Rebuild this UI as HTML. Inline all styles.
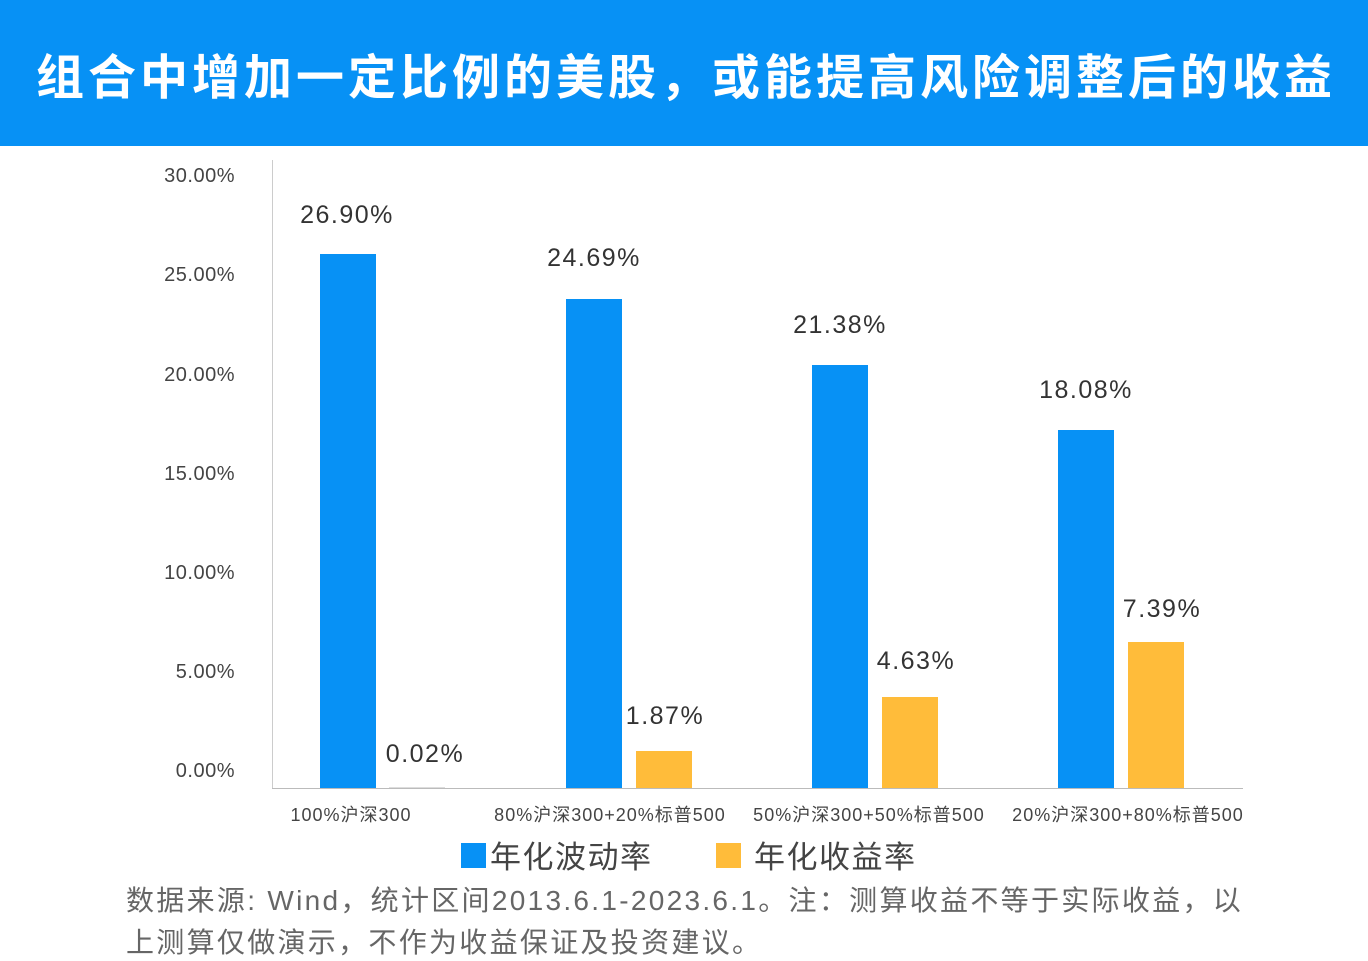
<!DOCTYPE html>
<html><head><meta charset="utf-8"><style>
body{margin:0;width:1368px;height:960px;background:#fff;overflow:hidden;font-family:"Liberation Sans","Noto Sans CJK SC",sans-serif;position:relative}
.hdr{position:absolute;left:0;top:0;width:1368px;height:146px;background:#0791F5}
.ttl{position:absolute;left:0;top:46px;width:1368px;text-align:center;color:#fff;font-weight:bold;font-size:48px;line-height:66px;letter-spacing:4px;text-indent:4px}
.t{position:absolute;white-space:nowrap}
.yl{right:1133px;font-size:20px;color:#444;text-align:right;letter-spacing:0.5px}
.b{position:absolute;width:56px}
.blue{background:#0791F5}.yel{background:#FFBC3A}
.v{font-size:25px;color:#333;transform:translateX(-50%);letter-spacing:1.5px}
.c{font-size:18px;color:#444;transform:translateX(-50%);top:801px;letter-spacing:1px}
.f{font-size:28px;color:#666;left:126px;letter-spacing:2.3px}
</style></head><body>
<div class="hdr"></div>
<div class="ttl">组合中增加一定比例的美股，或能提高风险调整后的收益</div>
<div style="position:absolute;left:272px;top:160px;width:1px;height:628px;background:#ccc"></div>
<div style="position:absolute;left:272px;top:788px;width:971px;height:1px;background:#bbb"></div>
<div class="t yl" style="top:165px">30.00%</div>
<div class="t yl" style="top:264px">25.00%</div>
<div class="t yl" style="top:364px">20.00%</div>
<div class="t yl" style="top:463px">15.00%</div>
<div class="t yl" style="top:562px">10.00%</div>
<div class="t yl" style="top:661px">5.00%</div>
<div class="t yl" style="top:760px">0.00%</div>

<div class="b blue" style="left:320px;top:254px;height:534px"></div>
<div class="b" style="left:389px;top:787px;height:1px;background:#ddd"></div>
<div class="b blue" style="left:566px;top:299px;height:489px"></div>
<div class="b yel" style="left:636px;top:751px;height:37px"></div>
<div class="b blue" style="left:812px;top:365px;height:423px"></div>
<div class="b yel" style="left:882px;top:697px;height:91px"></div>
<div class="b blue" style="left:1058px;top:430px;height:358px"></div>
<div class="b yel" style="left:1128px;top:642px;height:146px"></div>

<div class="t v" style="left:347px;top:201px">26.90%</div>
<div class="t v" style="left:425px;top:740px">0.02%</div>
<div class="t v" style="left:594px;top:244px">24.69%</div>
<div class="t v" style="left:665px;top:702px">1.87%</div>
<div class="t v" style="left:840px;top:311px">21.38%</div>
<div class="t v" style="left:916px;top:647px">4.63%</div>
<div class="t v" style="left:1086px;top:376px">18.08%</div>
<div class="t v" style="left:1162px;top:595px">7.39%</div>

<div class="t c" style="left:351px">100%沪深300</div>
<div class="t c" style="left:610px">80%沪深300+20%标普500</div>
<div class="t c" style="left:869px">50%沪深300+50%标普500</div>
<div class="t c" style="left:1128px">20%沪深300+80%标普500</div>

<div style="position:absolute;left:461px;top:843px;width:25px;height:25px;background:#0791F5"></div>
<div class="t" style="left:490px;top:832px;font-size:31px;color:#444;letter-spacing:1.5px">年化波动率</div>
<div style="position:absolute;left:716px;top:843px;width:25px;height:25px;background:#FFBC3A"></div>
<div class="t" style="left:754px;top:832px;font-size:31px;color:#444;letter-spacing:1.5px">年化收益率</div>

<div class="t f" style="top:879px">数据来源: Wind，统计区间2013.6.1-2023.6.1。注：测算收益不等于实际收益，以</div>
<div class="t f" style="top:921px">上测算仅做演示，不作为收益保证及投资建议。</div>
</body></html>
